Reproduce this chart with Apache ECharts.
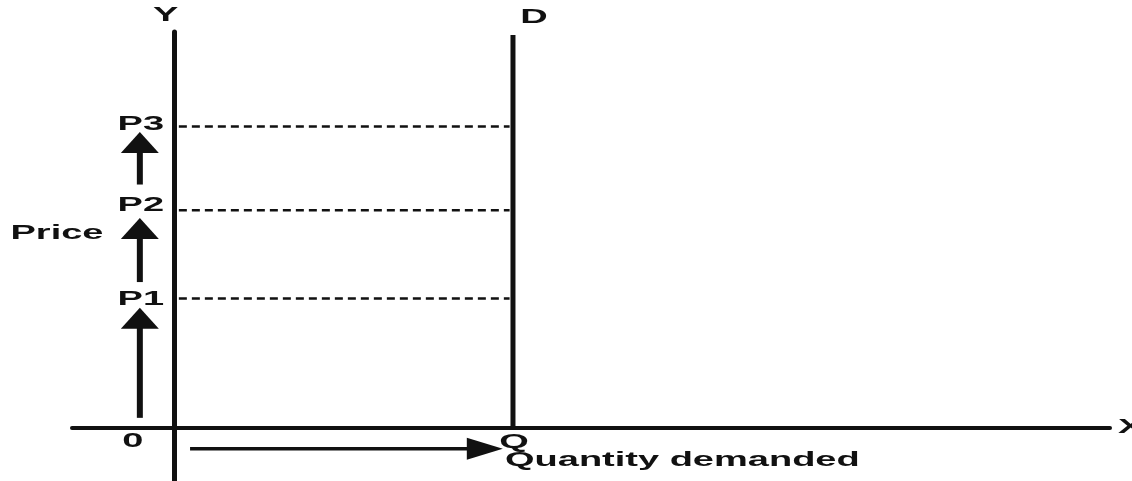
<!DOCTYPE html>
<html><head><meta charset="utf-8">
<script src="https://cdn.jsdelivr.net/npm/echarts@6/dist/echarts.min.js"></script>
<style>html,body{margin:0;padding:0;background:#fff}#c{width:1132px;height:481px}</style>
</head><body><div id="c"></div>
<script>
// ---- data (in chart units) ----
const xRange = [-3, 27.6];
const yRange = [-1.25, 9.2];
const quantityQ = 10;
const demandTop = 9.13;
const priceLevels = [3, 5.05, 7];
const priceNames = ['P1', 'P2', 'P3'];
const levelSpan = [0.15, 9.9];
const priceArrowX = -1;
const priceArrows = [[0.22, 2.78], [3.38, 4.87], [5.65, 6.87]];
const quantityArrowY = -0.5;
const quantityArrow = [0.48, 9.7];
const axisNames = ['X', 'Y'];
const titles = ['Price', 'Quantity demanded'];
const priceTitleY = 4.52;

// pixel nudges for the price labels (style, not data)
const priceLabelDy = [1, -5, -2];

// label anchors built from the values above
const labels = [
  { text: axisNames[1], at: [0, yRange[1]], dx: -8, dy: -17, align: 'center' },
  { text: axisNames[0], at: [xRange[1], 0], dx: 8, dy: 0, align: 'left' },
  { text: 'D', at: [quantityQ, demandTop], dx: 21, dy: -18, align: 'center' },
  { text: '0', at: [0, 0], dx: -41, dy: 14, align: 'center' },
  { text: 'Q', at: [quantityQ, 0], dx: 1, dy: 15, align: 'center' },
  { text: titles[1], at: [quantityQ, 0], dx: -8, dy: 33, align: 'left' },
  { text: titles[0], at: [xRange[0], priceTitleY], dx: -15, dy: 0, align: 'center' }
].concat(priceLevels.map((v, i) => ({ text: priceNames[i], at: [priceArrowX, v], dx: 1, dy: priceLabelDy[i], align: 'center' })));

const INK = '#111';
const chart = echarts.init(document.getElementById('c'));

function arrowItem(p0, p1, headLen, headW, shaftW) {
  const dx = p1[0] - p0[0], dy = p1[1] - p0[1];
  const L = Math.sqrt(dx * dx + dy * dy) || 1;
  const ux = dx / L, uy = dy / L, nx = -uy, ny = ux;
  const bx = p1[0] - ux * headLen, by = p1[1] - uy * headLen;
  return {
    type: 'group',
    children: [
      { type: 'line', shape: { x1: p0[0], y1: p0[1], x2: bx + ux, y2: by + uy }, style: { stroke: INK, lineWidth: shaftW } },
      { type: 'polygon', shape: { points: [[p1[0], p1[1]], [bx + nx * headW / 2, by + ny * headW / 2], [bx - nx * headW / 2, by - ny * headW / 2]] }, style: { fill: INK } }
    ]
  };
}

const series = [];
// demand line
series.push({
  type: 'line', data: [[quantityQ, 0], [quantityQ, demandTop]], symbol: 'none',
  lineStyle: { color: INK, width: 5 }, silent: true
});
// dashed price levels
priceLevels.forEach(v => series.push({
  type: 'line', data: [[levelSpan[0], v], [levelSpan[1], v]], symbol: 'none',
  lineStyle: { color: INK, width: 2.5, type: [8, 5] }, silent: true
}));
// price arrows
series.push({
  type: 'custom', data: priceArrows.map(a => [priceArrowX, a[0], a[1]]),
  renderItem: (params, api) => {
    const p0 = api.coord([api.value(0), api.value(1)]);
    const p1 = api.coord([api.value(0), api.value(2)]);
    return arrowItem(p0, p1, 21, 38, 6);
  }, silent: true
});
// quantity arrow
series.push({
  type: 'custom', data: [[quantityArrow[0], quantityArrow[1], quantityArrowY]],
  renderItem: (params, api) => {
    const p0 = api.coord([api.value(0), api.value(2)]);
    const p1 = api.coord([api.value(1), api.value(2)]);
    return arrowItem(p0, p1, 36, 22, 3.5);
  }, silent: true
});
// labels
series.push({
  type: 'custom', data: labels.map(l => l.at),
  renderItem: (params, api) => {
    const l = labels[params.dataIndex];
    const p = api.coord([api.value(0), api.value(1)]);
    return {
      type: 'text', x: p[0] + l.dx, y: p[1] + l.dy, scaleX: 1.9,
      style: { text: l.text, fill: INK, font: 'bold 20px "Liberation Sans", Arial, sans-serif', align: l.align, verticalAlign: 'middle' }
    };
  }, silent: true
});

chart.setOption({
  animation: false,
  backgroundColor: '#fff',
  grid: { left: 72, right: 22, top: 32, bottom: 0 },
  xAxis: {
    type: 'value', min: xRange[0], max: xRange[1],
    axisLine: { show: true, onZero: true, lineStyle: { color: INK, width: 4 } },
    axisTick: { show: false }, axisLabel: { show: false }, splitLine: { show: false }
  },
  yAxis: {
    type: 'value', min: yRange[0], max: yRange[1],
    axisLine: { show: true, onZero: true, lineStyle: { color: INK, width: 5 } },
    axisTick: { show: false }, axisLabel: { show: false }, splitLine: { show: false }
  },
  series: series
});
</script></body></html>
